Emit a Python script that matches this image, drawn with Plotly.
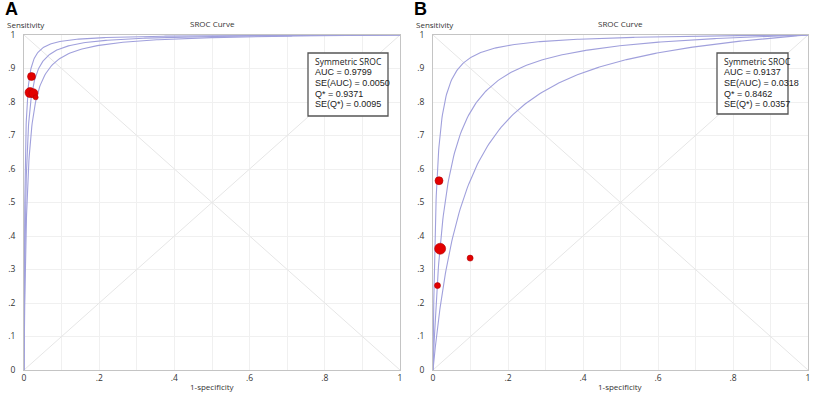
import numpy as np
import plotly.graph_objects as go

W, H = 819, 395

# ---------------- data ----------------
panels = ["A", "B"]
# study points (1-specificity, sensitivity, weight -> marker size)
a_fpr = [0.020, 0.016, 0.025, 0.031]
a_sens = [0.876, 0.828, 0.826, 0.814]
a_size = [8, 10, 9, 5]

b_fpr = [0.016, 0.019, 0.099, 0.012]
b_sens = [0.565, 0.362, 0.334, 0.252]
b_size = [8, 11, 6, 6]

# symmetric SROC summary statistics
a_stats = ["Symmetric SROC", "AUC = 0.9799", "SE(AUC) = 0.0050", "Q* = 0.9371", "SE(Q*) = 0.0095"]
b_stats = ["Symmetric SROC", "AUC = 0.9137", "SE(AUC) = 0.0318", "Q* = 0.8462", "SE(Q*) = 0.0357"]
a_q, a_se = 0.9371, 0.0095
b_q, b_se = 0.8462, 0.0357

x_tickvals = [round(0.1 * i, 1) for i in range(11)]
x_ticktext = ["0", "", ".2", "", ".4", "", ".6", "", ".8", "", "1"]
y_tickvals = [round(0.1 * i, 1) for i in range(11)]
y_ticktext = ["0", ".1", ".2", ".3", ".4", ".5", ".6", ".7", ".8", ".9", "1"]

# ---------------- helpers ----------------
def logit(p):
    return np.log(p / (1 - p))

fgrid = np.unique(np.concatenate([[0.0], np.logspace(-7, -1, 300), np.linspace(0.1, 1.0, 200)]))

def sroc_curve(q):
    d = 2 * logit(q)
    f = np.clip(fgrid, 1e-12, 1 - 1e-12)
    s = 1 / (1 + np.exp(-(d + logit(f))))
    s[0] = 0.0
    s[-1] = 1.0
    return fgrid, s

def px(x):
    return x / W

def py(y):
    return 1 - y / H

CURVE = "#a0a0dc"
DIAG = "#e6e6e6"
GRID = "#f0f0f0"
AXIS = "#c4c4c4"
RED = "#e30000"

fig = go.Figure()

domains = {
    "A": [px(24), px(400)],
    "B": [px(433), px(808)],
}
ydom = [py(370), py(35)]

data = {
    "A": (a_fpr, a_sens, a_size, a_stats, a_q, a_se),
    "B": (b_fpr, b_sens, b_size, b_stats, b_q, b_se),
}

for i, p in enumerate(panels):
    xa = "x" if i == 0 else "x2"
    ya = "y" if i == 0 else "y2"
    fpr, sens, size, stats, q, se = data[p]
    # diagonals
    fig.add_trace(go.Scatter(x=[0, 1], y=[1, 0], mode="lines", line=dict(color=DIAG, width=1),
                             xaxis=xa, yaxis=ya, hoverinfo="skip"))
    fig.add_trace(go.Scatter(x=[0, 1], y=[0, 1], mode="lines", line=dict(color=DIAG, width=1),
                             xaxis=xa, yaxis=ya, hoverinfo="skip"))
    for qq in [q - 2 * se, q, q + 2 * se]:
        cx, cy = sroc_curve(qq)
        fig.add_trace(go.Scatter(x=cx, y=cy, mode="lines", line=dict(color=CURVE, width=1.1),
                                 xaxis=xa, yaxis=ya, hoverinfo="skip"))
    fig.add_trace(go.Scatter(x=fpr, y=sens, mode="markers",
                             marker=dict(color=RED, size=size, opacity=1,
                                         line=dict(color="#b00000", width=0.6)),
                             xaxis=xa, yaxis=ya, cliponaxis=False))

axis_common = dict(range=[0, 1], showgrid=True, gridcolor=GRID, gridwidth=1, zeroline=False,
                   showline=True, linecolor=AXIS, linewidth=1, mirror=True, ticks="",
                   automargin=False,
                   tickfont=dict(family="Open Sans", size=8.5, color="#333333"), fixedrange=True)

fig.update_layout(
    width=W, height=H, margin=dict(l=0, r=0, t=0, b=0, autoexpand=False),
    paper_bgcolor="white", plot_bgcolor="white", showlegend=False,
    xaxis=dict(domain=domains["A"], anchor="y", tickvals=x_tickvals, ticktext=x_ticktext, **axis_common),
    yaxis=dict(domain=ydom, anchor="x", tickvals=y_tickvals, ticktext=y_ticktext,
               ticklabelstandoff=6, **axis_common),
    xaxis2=dict(domain=domains["B"], anchor="y2", tickvals=x_tickvals, ticktext=x_ticktext, **axis_common),
    yaxis2=dict(domain=ydom, anchor="x2", tickvals=y_tickvals, ticktext=y_ticktext,
                ticklabelstandoff=6, **axis_common),
)

# text annotations
label_font = dict(family="Open Sans", size=8, color="#333333")
offsets = {"A": 0, "B": 409}
for p in panels:
    o = offsets[p]
    fig.add_annotation(xref="paper", yref="paper", x=px(4 + o), y=py(9), xanchor="left", yanchor="middle",
                       text="<b>%s</b>" % p, showarrow=False, borderpad=0,
                       font=dict(family="Liberation Sans", size=18, color="black"))
    fig.add_annotation(xref="paper", yref="paper", x=px(6 + o), y=py(24.5), xanchor="left", yanchor="middle",
                       text="Sensitivity", showarrow=False, borderpad=0, font=label_font)
    cx = (24 + 400) / 2 if p == "A" else (433 + 808) / 2
    fig.add_annotation(xref="paper", yref="paper", x=px(cx), y=py(24), xanchor="center", yanchor="middle",
                       text="SROC Curve", showarrow=False, font=label_font)
    fig.add_annotation(xref="paper", yref="paper", x=px(cx), y=py(386), xanchor="center", yanchor="middle",
                       text="1-specificity", showarrow=False, font=label_font)

# stats boxes
boxes = {"A": (308, 388, 53, 116), "B": (717, 788, 53, 114)}
for p in panels:
    x0, x1, y0, y1 = boxes[p]
    stats = data[p][3]
    fig.add_shape(type="rect", xref="paper", yref="paper", x0=px(x0), x1=px(x1), y0=py(y0), y1=py(y1),
                  line=dict(color="#555555", width=1.3), fillcolor="white", layer="above")
    for j, t in enumerate(stats):
        fam = "Open Sans" if j == 0 else "Liberation Sans"
        fig.add_annotation(xref="paper", yref="paper", x=px(x0 + 5), y=py(y0 + 9 + 10.5 * j),
                           xanchor="left", yanchor="middle", text=t, showarrow=False,
                           font=dict(family=fam, size=8.5 if j == 0 else 9, color="#222222"))

fig.write_html("out.html", config={"displayModeBar": False},
               post_script="document.body.style.margin='0';document.body.style.overflow='hidden';")
